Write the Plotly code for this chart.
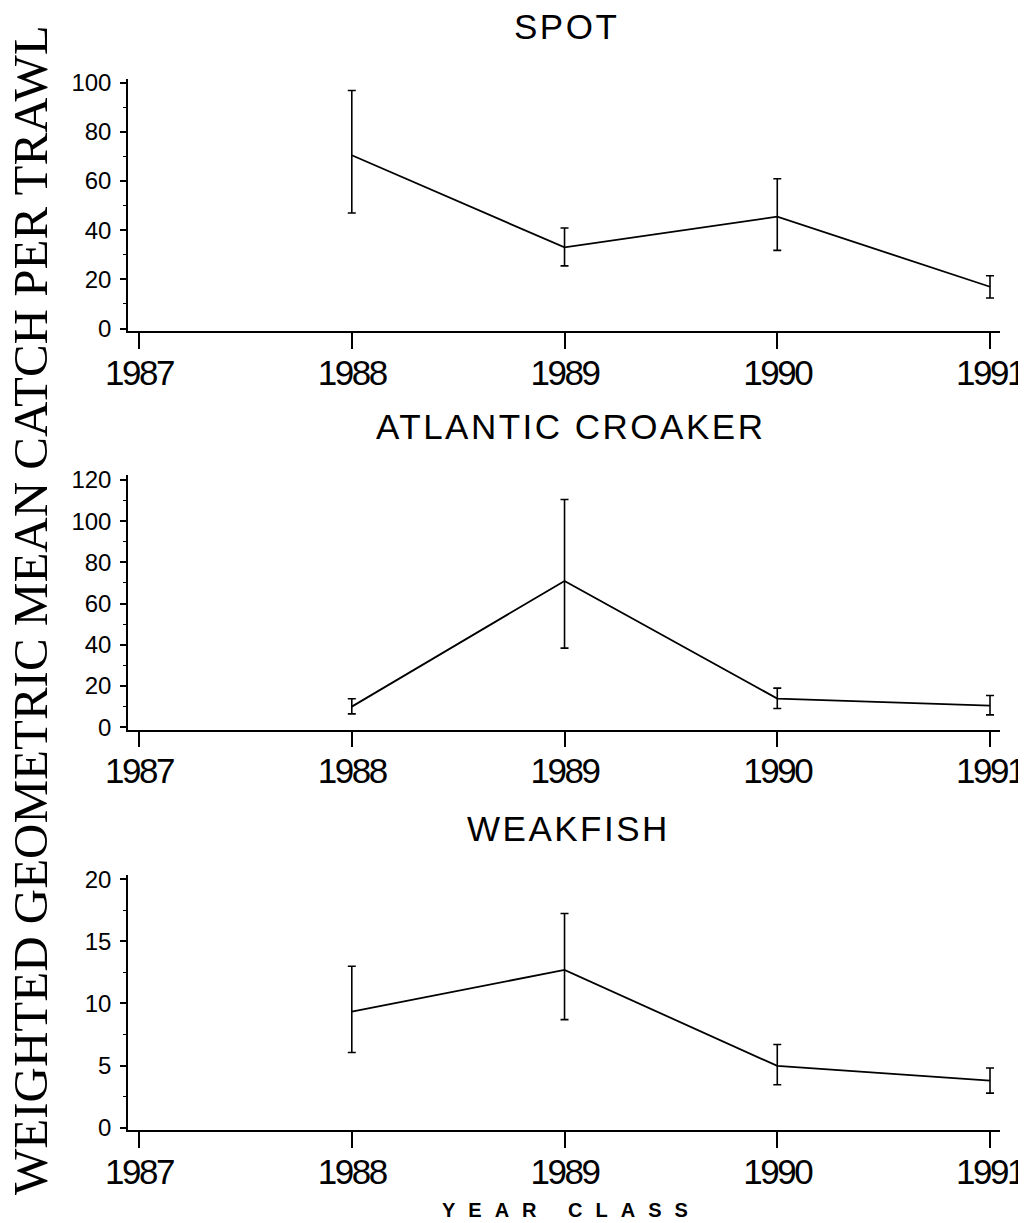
import plotly.graph_objects as go

# ---------------- data ----------------
years = [1988, 1989, 1990, 1991]

spot_mean = [70.5, 33.0, 45.5, 17.0]
spot_upper = [96.8, 40.9, 60.9, 21.5]
spot_lower = [47.0, 25.5, 31.8, 12.4]

croaker_mean = [10.0, 71.0, 13.9, 10.5]
croaker_upper = [13.8, 110.5, 19.0, 15.4]
croaker_lower = [6.5, 38.4, 9.1, 6.0]

weakfish_mean = [9.35, 12.7, 4.97, 3.78]
weakfish_upper = [13.0, 17.25, 6.7, 4.8]
weakfish_lower = [6.05, 8.7, 3.45, 2.78]

x_ticks = [1987, 1988, 1989, 1990, 1991]
titles = ["SPOT", "ATLANTIC CROAKER", "WEAKFISH"]
y_title = "WEIGHTED GEOMETRIC MEAN CATCH PER TRAWL"
x_title = "YEAR CLASS"

# the page body has an 8px margin: the figure starts at (8, 8) of the window
OX, OY = 8, 8
W, H = 1026 - OX, 1223 - OY


def px_x(p):
    return (p - OX) / W


def px_y(p):
    return 1 - (p - OY) / H


def spaced(text, ls):
    return '<span style="letter-spacing:%spx">%s</span>' % (ls, text)


series = [
    (spot_mean, spot_upper, spot_lower),
    (croaker_mean, croaker_upper, croaker_lower),
    (weakfish_mean, weakfish_upper, weakfish_lower),
]

# panel pixel layout (window pixels: top, bottom) and y settings
panels = [
    dict(top=79, bottom=331, yrange=[-1.0, 101.5], dtick=20, minor=10),
    dict(top=475, bottom=729.5, yrange=[-1.1, 122.4], dtick=20, minor=10),
    dict(top=875, bottom=1130, yrange=[-0.19, 20.35], dtick=5, minor=2.5),
]
title_pos = [(566, 27), (570, 426), (568, 828)]

fig = go.Figure()
tick_font_x = dict(family="Liberation Sans, Arial, sans-serif", size=35, color="black")
tick_font_y = dict(family="Liberation Sans, Arial, sans-serif", size=24, color="black")

for i, ((m, up, lo), p) in enumerate(zip(series, panels)):
    sfx = "" if i == 0 else str(i + 1)
    fig.add_trace(go.Scatter(
        x=years, y=m, mode="lines",
        line=dict(color="black", width=1.8),
        error_y=dict(type="data", symmetric=False,
                     array=[u - v for u, v in zip(up, m)],
                     arrayminus=[v - l for v, l in zip(m, lo)],
                     color="black", thickness=1.6, width=4),
        xaxis="x" + sfx, yaxis="y" + sfx, showlegend=False,
    ))
    fig.layout["xaxis" + sfx] = dict(
        domain=[px_x(128), px_x(1000)], range=[1986.948, 1991.047],
        anchor="y" + sfx, tickvals=x_ticks, ticktext=[spaced(str(t), -2.5) for t in x_ticks],
        ticks="outside", ticklen=16, tickwidth=1.5, tickcolor="black",
        showline=True, linecolor="black", linewidth=1.5,
        showgrid=False, zeroline=False, tickfont=tick_font_x,
        ticklabelstandoff=-6, automargin=False, ticklabeloverflow="allow",
    )
    fig.layout["yaxis" + sfx] = dict(
        domain=[px_y(p["bottom"]), px_y(p["top"])], range=p["yrange"],
        anchor="x" + sfx, dtick=p["dtick"], tick0=0,
        ticks="outside", ticklen=6, tickwidth=1.5, tickcolor="black",
        minor=dict(dtick=p["minor"], tick0=0, ticks="outside", ticklen=3, tickwidth=1.2, tickcolor="black"),
        showline=True, linecolor="black", linewidth=1.5,
        showgrid=False, zeroline=False, tickfont=tick_font_y,
        ticklabelstandoff=4, automargin=False,
    )

annotations = []
for t, (cx, cy) in zip(titles, title_pos):
    annotations.append(dict(text=spaced(t, 2.5), x=px_x(cx), y=px_y(cy), xref="paper", yref="paper",
                            xanchor="center", yanchor="middle", showarrow=False,
                            font=dict(family="Liberation Sans, Arial, sans-serif", size=35, color="black")))
annotations.append(dict(text=y_title, x=px_x(30), y=px_y(610), xref="paper", yref="paper",
                        xanchor="center", yanchor="middle", showarrow=False, textangle=-90,
                        font=dict(family="Liberation Serif, Times New Roman, serif", size=49, color="black")))
annotations.append(dict(text="<b>" + spaced(x_title, 13) + "</b>", x=px_x(571), y=px_y(1210), xref="paper", yref="paper",
                        xanchor="center", yanchor="middle", showarrow=False,
                        font=dict(family="Liberation Sans, Arial, sans-serif", size=20, color="black")))

fig.update_layout(
    width=W, height=H, margin=dict(l=0, r=0, t=0, b=0, pad=0, autoexpand=False),
    paper_bgcolor="white", plot_bgcolor="white",
    annotations=annotations,
)

fig.write_html("out.html")
